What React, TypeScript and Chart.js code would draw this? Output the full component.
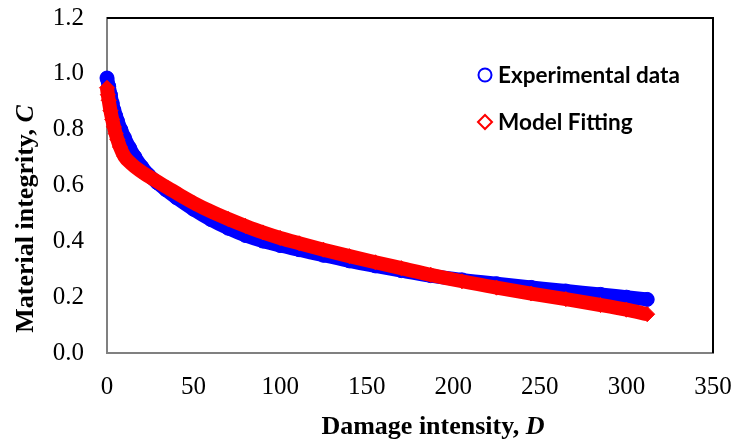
import React, { useEffect, useRef } from "react";
import { Chart, registerables } from "chart.js";

Chart.register(...registerables);

// Experimental data (blue circles)
const expD = [0, 1, 2, 3, 4, 5, 6, 8, 10, 13, 16, 20, 24, 29, 34, 40, 50, 60, 70, 80, 90, 100, 111, 125, 140, 155, 170, 187, 205, 225, 245, 265, 285, 300, 312];
const expC = [0.985, 0.955, 0.925, 0.895, 0.87, 0.85, 0.832, 0.8, 0.772, 0.735, 0.703, 0.667, 0.638, 0.61, 0.585, 0.557, 0.515, 0.478, 0.447, 0.421, 0.401, 0.385, 0.37, 0.35, 0.33, 0.312, 0.295, 0.277, 0.262, 0.248, 0.235, 0.222, 0.21, 0.2, 0.192];

// Model fitting (red diamonds)
const modelD = [0, 0.5, 1, 2, 3, 4, 5, 6, 7.5, 10, 14, 19, 24, 29, 35, 42, 50, 60, 70, 80, 90, 100, 111, 125, 140, 155, 170, 187, 205, 225, 245, 265, 285, 300, 312];
const modelC = [0.95, 0.925, 0.905, 0.868, 0.837, 0.81, 0.786, 0.765, 0.738, 0.705, 0.678, 0.653, 0.633, 0.614, 0.592, 0.566, 0.538, 0.507, 0.48, 0.455, 0.432, 0.412, 0.393, 0.37, 0.347, 0.325, 0.304, 0.28, 0.257, 0.234, 0.213, 0.193, 0.172, 0.155, 0.139];

const seriesNames = ["Experimental data", "Model Fitting"];
const xTitle = ["Damage intensity, ", "D"];
const yTitle = ["Material integrity, ", "C"];
const xRange = [0, 350, 50];
const yRange = [0, 1.2, 0.2];

const BLUE = "#0000FF";
const RED = "#FF0000";

const decorPlugin = {
  id: "decor",
  beforeDatasetsDraw(chart: any) {
    const { ctx, chartArea } = chart;
    ctx.save();
    ctx.strokeStyle = "#000000";
    ctx.lineWidth = 2;
    ctx.beginPath();
    ctx.moveTo(chartArea.left, chartArea.top);
    ctx.lineTo(chartArea.right, chartArea.top);
    ctx.lineTo(chartArea.right, chartArea.bottom);
    ctx.stroke();
    ctx.restore();
  },
  afterDraw(chart: any) {
    const { ctx } = chart;
    ctx.save();
    ctx.fillStyle = "#000000";
    const fontN = "bold 26px 'Liberation Serif', 'Times New Roman', serif";
    const fontI = "italic bold 26px 'Liberation Serif', 'Times New Roman', serif";
    const drawMixed = (parts: string[], cx: number, cy: number, rot: number) => {
      ctx.save();
      ctx.translate(cx, cy);
      ctx.rotate(rot);
      ctx.textBaseline = "alphabetic";
      ctx.textAlign = "left";
      ctx.font = fontN;
      const w1 = ctx.measureText(parts[0]).width;
      ctx.font = fontI;
      const w2 = ctx.measureText(parts[1]).width;
      const start = -(w1 + w2) / 2;
      ctx.font = fontN;
      ctx.fillText(parts[0], start, 0);
      ctx.font = fontI;
      ctx.fillText(parts[1], start + w1, 0);
      ctx.restore();
    };
    drawMixed(xTitle, 433, 434, 0);
    drawMixed(yTitle, 33, 219, -Math.PI / 2);

    // legend
    ctx.font = "bold 20px Lato, 'Open Sans', sans-serif";
    const m = ctx.measureText(seriesNames[0]).width;
    const size = (20 * 182) / m;
    ctx.font = `bold ${size}px Lato, 'Open Sans', sans-serif`;
    ctx.textBaseline = "middle";
    ctx.textAlign = "left";
    const items = [
      { y: 75, color: BLUE, shape: "circle" },
      { y: 122, color: RED, shape: "diamond" },
    ];
    items.forEach((it, i) => {
      ctx.lineWidth = 2;
      ctx.strokeStyle = it.color;
      ctx.beginPath();
      if (it.shape === "circle") {
        ctx.arc(485, it.y, 6.5, 0, Math.PI * 2);
      } else {
        ctx.moveTo(485 - 7, it.y);
        ctx.lineTo(485, it.y - 7);
        ctx.lineTo(485 + 7, it.y);
        ctx.lineTo(485, it.y + 7);
        ctx.closePath();
      }
      ctx.stroke();
      ctx.fillStyle = "#000000";
      ctx.fillText(seriesNames[i], 498, it.y + 1);
    });
    ctx.restore();
  },
};

export default function App() {
  const ref = useRef<HTMLCanvasElement | null>(null);
  useEffect(() => {
    if (!ref.current) return;
    const chart = new Chart(ref.current, {
      type: "scatter",
      data: {
        datasets: [
          {
            label: seriesNames[1],
            data: modelD.map((d, i) => ({ x: d, y: modelC[i] })),
            showLine: true,
            borderColor: RED,
            backgroundColor: RED,
            borderWidth: 14,
            borderCapStyle: "butt",
            borderJoinStyle: "round",
            cubicInterpolationMode: "monotone",
            pointStyle: "rectRot",
            pointRadius: 7.5,
            pointBorderWidth: 1,
            pointBorderColor: RED,
            pointBackgroundColor: RED,
            clip: false,
          } as any,
          {
            label: seriesNames[0],
            data: expD.map((d, i) => ({ x: d, y: expC[i] })),
            showLine: true,
            borderColor: BLUE,
            backgroundColor: BLUE,
            borderWidth: 14,
            borderCapStyle: "round",
            borderJoinStyle: "round",
            cubicInterpolationMode: "monotone",
            pointStyle: "circle",
            pointRadius: 7,
            pointBorderWidth: 1,
            pointBorderColor: BLUE,
            pointBackgroundColor: BLUE,
            clip: false,
          } as any,
        ],
      },
      options: {
        responsive: false,
        animation: false,
        maintainAspectRatio: false,
        layout: { padding: { top: 18, right: 24, left: 0, bottom: 0 } },
        plugins: {
          legend: { display: false },
          tooltip: { enabled: false },
          title: { display: false },
        },
        scales: {
          x: {
            type: "linear",
            min: xRange[0],
            max: xRange[1],
            ticks: {
              stepSize: xRange[2],
              padding: 19,
              color: "#000000",
              font: { family: "'Liberation Serif', 'Times New Roman', serif", size: 25 },
              maxRotation: 0,
            },
            grid: { display: false, drawTicks: false },
            border: { display: true, color: "#808080", width: 2 },
            afterFit: (s: any) => {
              s.height = 92;
              s.paddingLeft = 0;
              s.paddingRight = 0;
            },
          },
          y: {
            type: "linear",
            min: yRange[0],
            max: yRange[1],
            ticks: {
              stepSize: yRange[2],
              padding: 23,
              color: "#000000",
              font: { family: "'Liberation Serif', 'Times New Roman', serif", size: 25 },
              callback: (v: any) => Number(v).toFixed(1),
            },
            grid: { display: false, drawTicks: false },
            border: { display: true, color: "#808080", width: 2 },
            afterFit: (s: any) => {
              s.width = 107;
              s.paddingTop = 0;
              s.paddingBottom = 0;
            },
          },
        },
      },
      plugins: [decorPlugin],
    });
    return () => chart.destroy();
  }, []);
  return (
    <div style={{ position: "fixed", left: 0, top: 0, width: 737, height: 445, background: "#ffffff" }}>
      <canvas ref={ref} width={737} height={445} style={{ display: "block" }} />
    </div>
  );
}
